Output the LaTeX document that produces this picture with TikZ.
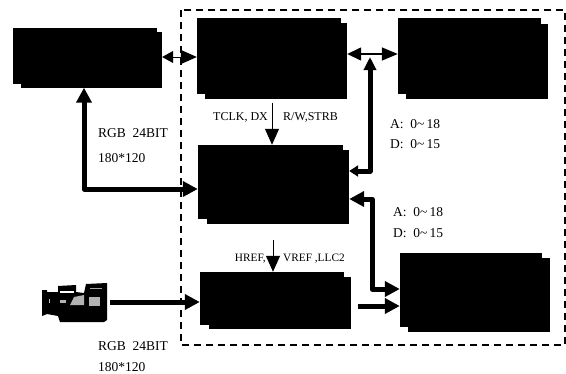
\documentclass[tikz,border=0pt]{standalone}
\usepackage{fontspec}
\setmainfont{Liberation Serif}
\usetikzlibrary{arrows.meta}
\tikzset{
  blockbox/.style={fill=black,draw=none,inner sep=0pt,minimum width=#1},
  lbl/.style={inner sep=0pt,anchor=west,font=\fontsize{12}{13}\selectfont},
  smlbl/.style={lbl,font=\fontsize{11.3}{12}\selectfont},
  biglbl/.style={lbl,font=\fontsize{13.5}{14}\selectfont},
  heavy/.style={line width=5pt,line join=round,black},
  light/.style={line width=1pt,black},
  hd/.tip={Triangle[length=15pt,width=15pt]},
  hs/.tip={Triangle[length=11pt,width=12pt]},
  notch/.style={fill=white,draw=none},
}
\begin{document}
\begin{tikzpicture}[x=1pt,y=-1pt]
\useasboundingbox (0,0) rectangle (566,373);
% dashed frame
\draw[line width=1.7pt,dash pattern=on 7pt off 5pt] (181,10) rectangle (565,345);
% blocks
\node[blockbox=149pt,minimum height=60pt] (a) at (87.5,57.5) {};
\node[blockbox=150pt,minimum height=81pt] (b) at (272,58.5) {};
\node[blockbox=150pt,minimum height=81pt] (c) at (473,58.5) {};
\node[blockbox=151pt,minimum height=79pt] (d) at (273.5,184.5) {};
\node[blockbox=151pt,minimum height=57pt] (e) at (275.5,300.5) {};
\node[blockbox=150pt,minimum height=79pt] (f) at (475,292.5) {};
% notches
\fill[notch] (157,27) rectangle (163,32);
\fill[notch] (12,84) rectangle (21,88);
\fill[notch] (341,17) rectangle (348,23);
\fill[notch] (196,94) rectangle (205,100);
\fill[notch] (541,17) rectangle (549,24);
\fill[notch] (397,94) rectangle (406,100);
\fill[notch] (343,144) rectangle (350,150);
\fill[notch] (197,219) rectangle (207,225);
\fill[notch] (344,271) rectangle (352,277);
\fill[notch] (199,325) rectangle (209,330);
\fill[notch] (542,252) rectangle (551,258);
\fill[notch] (399,327) rectangle (408,333);
% junction and bend points
\coordinate (jt) at (370,57);
\coordinate (bc) at (370,171);
\coordinate (bf1) at (372,199);
\coordinate (bf2) at (372,289);
\coordinate (ba) at (84,189);
\coordinate (es) at (358,306);
\coordinate (cam) at (110,302);
\coordinate (t1) at (272,103);
\coordinate (t2) at (273,240);
% connectors
\draw[light,{hs}-{Triangle[length=16pt,width=14pt]}] (a.east |- 0,57) -- (b.west |- 0,57);
\draw[light,line width=1.5pt,{Triangle[length=14pt,width=13pt]}-{Triangle[length=16pt,width=13pt]}] (b.east |- 0,54) -- (c.west |- 0,54);
\draw[heavy,{Triangle[length=9pt,width=11pt]}-{Triangle[length=13pt,width=12pt]}] (d.east |- bc) -- (bc) -- (jt);
\draw[heavy,{hd}-{hd}] (d.east |- bf1) -- (bf1) -- (bf2) -- (f.west |- bf2);
\draw[heavy,-{hd}] (es) -- (f.west |- es);
\draw[heavy,{hd}-{hd}] (a.south -| ba) -- (ba) -- (d.west |- ba);
\draw[heavy,-{hd}] (cam) -- (e.west |- cam);
\draw[light,-{Triangle[length=16pt,width=14pt]}] (t1) -- (d.north -| t1);
\draw[light,-{Triangle[length=16pt,width=14pt]}] (t2) -- (e.north -| t2);
% labels
\node[lbl] (l1) at (213,117) {TCLK, DX};
\node[lbl] (l2) at (283,117) {R/W,STRB};
\node[biglbl] (l3) at (98,133) {RGB\ \ 24BIT};
\node[biglbl] (l4) at (98,158) {180*120};
\node[biglbl] (l5) at (390,124) {A:\ \ 0\char`~\,18};
\node[biglbl] (l6) at (390,144) {D:\ \ 0\char`~\,15};
\node[biglbl] (l7) at (393,212) {A:\ \ 0\char`~\,18};
\node[biglbl] (l8) at (393,233) {D:\ \ 0\char`~\,15};
\node[smlbl,anchor=east] (l9) at (266,259) {HREF,};
\node[smlbl] (l10) at (283,259) {VREF ,LLC2};
\node[biglbl] (l11) at (98,346) {RGB\ \ 24BIT};
\node[biglbl] (l12) at (98,367) {180*120};
% camera
\fill (42,290) -- (47,290) -- (47,292) -- (58,292) -- (58,286) -- (76,285) -- (76,292) -- (84,293) -- (86,284) -- (107,283) -- (107,320) -- (104,322) -- (60,322) -- (58,316) -- (47,314) -- (42,316) -- cycle;
\fill[white] (60,290.5) rectangle (74,292.5);
\fill[gray!60] (70,305) -- (74,297) -- (84,295) -- (84,305) -- cycle;
\fill[gray!60] (89,297) rectangle (100,306);
\fill[gray!70] (90,287.5) rectangle (102,289);
\fill[gray!60] (60,300) rectangle (66,303);
\fill[gray!50] (49,299) rectangle (50,303);
\end{tikzpicture}
\end{document}
